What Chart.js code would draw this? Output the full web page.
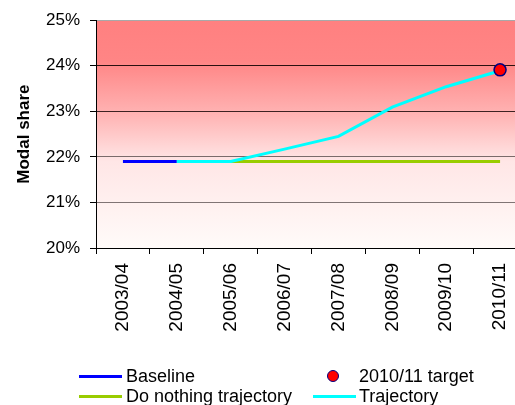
<!DOCTYPE html>
<html>
<head>
<meta charset="utf-8">
<script src="https://cdn.jsdelivr.net/npm/chart.js@4/dist/chart.umd.min.js"></script>
<style>
  html, body { margin: 0; padding: 0; background: #fff; overflow: hidden; width: 515px; height: 405px; }
  #wrap { position: relative; width: 540px; height: 405px; }
  canvas { position: absolute; left: 0; top: 0; }
  .leg { position: absolute; font-family: "Liberation Sans", Arial, sans-serif; font-size: 18px; color: #000; line-height: 20px; white-space: nowrap; }
  .sw { position: absolute; }
</style>
</head>
<body>
<div id="wrap">
  <canvas id="c" width="540" height="405"></canvas>
</div>
<script>
const categories = ["2003/04","2004/05","2005/06","2006/07","2007/08","2008/09","2009/10","2010/11"];
const baseline   = [21.9, 21.9, null, null, null, null, null, null];
const doNothing  = [null, 21.9, 21.9, 21.9, 21.9, 21.9, 21.9, 21.9];
const trajectory = [null, 21.9, 21.9, 22.17, 22.45, 23.09, 23.54, 23.89];
const target     = [null, null, null, null, null, null, null, 23.91];
const yTicks     = [20, 21, 22, 23, 24, 25];
const seriesNames = ["Baseline", "Do nothing trajectory", "Trajectory", "2010/11 target"];

const gridColors = {25: "#a8a8a8", 24: "#2a1010", 23: "#3c2222", 22: "#7a6a6a", 21: "#807474", 20: "#000000"};

const bgPlugin = {
  id: "bg",
  beforeDraw(chart) {
    const {ctx, chartArea: a} = chart;
    const g = ctx.createLinearGradient(0, a.top, 0, a.bottom);
    g.addColorStop(0, "#FF8080");
    g.addColorStop(0.18, "#FF8585");
    g.addColorStop(0.42, "#FFB5B5");
    g.addColorStop(0.62, "#FFE6E6");
    g.addColorStop(1, "#FFFBF9");
    ctx.save();
    ctx.fillStyle = g;
    ctx.fillRect(a.left, a.top, a.right - a.left, a.bottom - a.top);
    ctx.restore();
  }
};

const chart = new Chart(document.getElementById("c"), {
  type: "line",
  data: {
    labels: categories,
    datasets: [
      { label: seriesNames[0], data: baseline, borderColor: "#0000FF", borderWidth: 3, pointRadius: 0, tension: 0, order: 3 },
      { label: seriesNames[1], data: doNothing, borderColor: "#99CC00", borderWidth: 3, pointRadius: 0, tension: 0, order: 4 },
      { label: seriesNames[2], data: trajectory, borderColor: "#00FFFF", borderWidth: 3, pointRadius: 0, tension: 0, order: 2 },
      { label: seriesNames[3], data: target, showLine: false, pointRadius: 6, pointBackgroundColor: "#FF0000", pointBorderColor: "#000080", pointBorderWidth: 1.5, order: 1 }
    ]
  },
  options: {
    responsive: false,
    animation: false,
    spanGaps: false,
    layout: { padding: { top: 19, left: 0, right: 13, bottom: 0 } },
    plugins: { legend: { display: false }, tooltip: { enabled: false } },
    scales: {
      x: {
        type: "category",
        offset: true,
        grid: { offset: true, drawOnChartArea: false, drawTicks: true, tickLength: 6, tickColor: "#000" },
        border: { display: true, color: "#000", width: 1 },
        ticks: { minRotation: 90, maxRotation: 90, autoSkip: false, padding: 9, color: "#000",
                 font: { family: "Liberation Sans", size: 19 } },
        afterFit(s) { s.height = 157; }
      },
      y: {
        min: 20, max: 25,
        afterBuildTicks(s) { s.ticks = yTicks.map(v => ({ value: v })); },
        grid: {
          color: (c) => gridColors[c.tick ? c.tick.value : 20] || "#000",
          lineWidth: 1, tickLength: 6, tickColor: "#000", drawTicks: true
        },
        border: { display: true, color: "#000", width: 1 },
        ticks: { padding: 10, color: "#000", font: { family: "Liberation Sans", size: 17 },
                 callback: (v) => v + "%" },
        title: { display: true, text: "Modal share", color: "#000",
                 font: { family: "Liberation Sans", size: 17, weight: "bold" }, padding: { top: 14, bottom: 0 } },
        afterFit(s) { s.width = 96; }
      }
    }
  },
  plugins: [bgPlugin]
});

// HTML legend built from dataset metadata
const wrap = document.getElementById("wrap");
const legItems = [
  { ds: 0, x: 79, y: 376, type: "line", tx: 126 },
  { ds: 3, x: 333, y: 376, type: "point", tx: 359 },
  { ds: 1, x: 79, y: 396, type: "line", tx: 126 },
  { ds: 2, x: 313, y: 396, type: "line", tx: 359 }
];
legItems.forEach(it => {
  const d = chart.data.datasets[it.ds];
  const sw = document.createElement("div");
  sw.className = "sw";
  if (it.type === "line") {
    Object.assign(sw.style, { left: it.x + "px", top: (it.y - 1.5) + "px", width: "43px", height: "3px", background: d.borderColor });
  } else {
    Object.assign(sw.style, { left: (it.x - 6) + "px", top: (it.y - 6) + "px", width: "10px", height: "10px",
      background: d.pointBackgroundColor, border: "1.5px solid " + d.pointBorderColor, borderRadius: "50%" });
  }
  wrap.appendChild(sw);
  const t = document.createElement("div");
  t.className = "leg";
  t.textContent = d.label;
  Object.assign(t.style, { left: it.tx + "px", top: (it.y - 10) + "px" });
  wrap.appendChild(t);
});
</script>
</body>
</html>
